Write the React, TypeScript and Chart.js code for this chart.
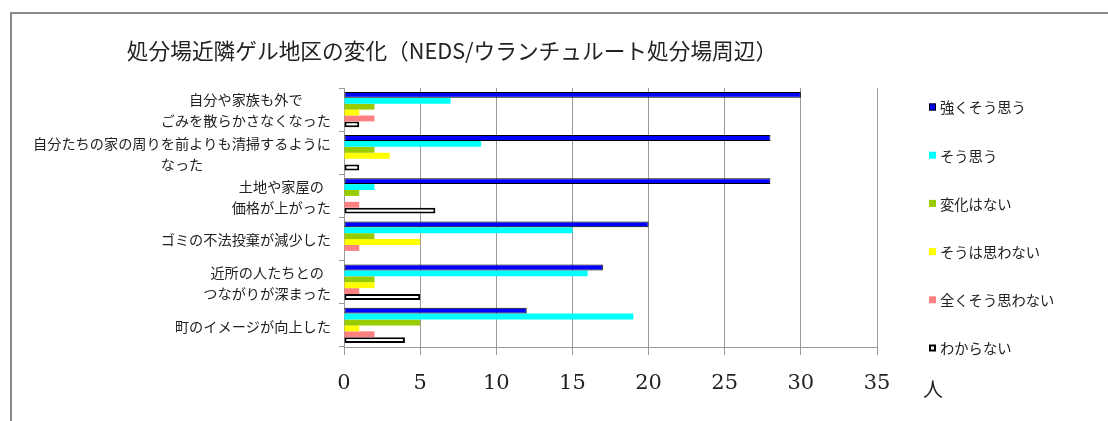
import React, { useEffect, useRef } from "react";
import { Chart, registerables } from "chart.js";

Chart.register(...registerables);

const TITLE = "処分場近隣ゲル地区の変化（NEDS/ウランチュルート処分場周辺）";
const UNIT = "人";

const categories: string[][] = [
  ["自分や家族も外で", "ごみを散らかさなくなった"],
  ["自分たちの家の周りを前よりも清掃するように", "なった"],
  ["土地や家屋の", "価格が上がった"],
  ["ゴミの不法投棄が減少した"],
  ["近所の人たちとの", "つながりが深まった"],
  ["町のイメージが向上した"],
];

const seriesNames = ["強くそう思う", "そう思う", "変化はない", "そうは思わない", "全くそう思わない", "わからない"];

const strongAgree = [30, 28, 28, 20, 17, 12];
const agree = [7, 9, 2, 15, 16, 19];
const noChange = [2, 2, 1, 2, 2, 5];
const disagree = [1, 3, 0, 5, 2, 1];
const stronglyDisagree = [2, 0, 1, 1, 1, 2];
const dontKnow = [1, 1, 6, 0, 5, 4];

const xTicksMax = 35;
const xStep = 5;

const colors = ["#0000FF", "#00FFFF", "#99CC00", "#FFFF00", "#FF8080", "#FFFFFF"];
const borderColors = ["#000000", "#00FFFF", "#99CC00", "#FFFF00", "#FF8080", "#000000"];
const borderWidths = [1, 0, 0, 0, 0, 2];

const JP = "'Noto Sans CJK JP', 'Noto Sans', sans-serif";

const decorPlugin = {
  id: "decor",
  afterDraw(chart: any) {
    const ctx = chart.ctx as CanvasRenderingContext2D;
    ctx.save();
    // outer frame
    ctx.strokeStyle = "#8a8a8a";
    ctx.lineWidth = 2;
    ctx.beginPath();
    ctx.moveTo(11, 421);
    ctx.lineTo(11, 13);
    ctx.lineTo(1108, 13);
    ctx.stroke();
    // title
    ctx.fillStyle = "#222";
    ctx.font = `21.7px ${JP}`;
    ctx.textAlign = "center";
    ctx.textBaseline = "middle";
    ctx.fillText(TITLE, 452, 51);
    // category labels (block right-aligned, lines centred)
    const yScale = chart.scales.y;
    ctx.font = `14.2px ${JP}`;
    const lineH = 21;
    const right = 331;
    categories.forEach((lines, i) => {
      const cy = yScale.getPixelForValue(i);
      const w = Math.max(...lines.map((l) => ctx.measureText(l).width));
      const cx = right - w / 2;
      lines.forEach((l, j) => {
        const ly = cy + (j - (lines.length - 1) / 2) * lineH + 1;
        ctx.fillText(l, cx, ly);
      });
    });
    // legend
    ctx.font = `14.3px ${JP}`;
    ctx.textAlign = "left";
    seriesNames.forEach((name, i) => {
      const cy = 107 + i * 48.2;
      const bw = borderWidths[i];
      ctx.fillStyle = colors[i];
      ctx.fillRect(929, cy - 3.5, 7, 7);
      if (bw > 0) {
        ctx.strokeStyle = "#000";
        ctx.lineWidth = bw;
        ctx.strokeRect(929 + bw / 2, cy - 3.5 + bw / 2, 7 - bw, 7 - bw);
      }
      ctx.fillStyle = "#222";
      ctx.fillText(name, 940, cy + 1);
    });
    // unit
    ctx.font = `20px ${JP}`;
    ctx.textAlign = "center";
    ctx.fillText(UNIT, 933, 389);
    ctx.restore();
  },
};

export default function App() {
  const ref = useRef<HTMLCanvasElement>(null);

  useEffect(() => {
    if (!ref.current) return;
    const data = [strongAgree, agree, noChange, disagree, stronglyDisagree, dontKnow];
    const chart = new Chart(ref.current, {
      type: "bar",
      data: {
        labels: categories.map((c) => c.join("")),
        datasets: seriesNames.map((name, i) => ({
          label: name,
          data: data[i],
          backgroundColor: colors[i],
          borderColor: borderColors[i],
          borderWidth: borderWidths[i],
          borderSkipped: false,
          barPercentage: 1,
          categoryPercentage: 0.82,
        })),
      },
      options: {
        indexAxis: "y",
        responsive: false,
        animation: false,
        devicePixelRatio: 1,
        layout: { padding: { left: 10, top: 88, right: 231, bottom: 24 } },
        plugins: {
          legend: { display: false },
          title: { display: false },
          tooltip: { enabled: false },
        },
        scales: {
          x: {
            min: 0,
            max: xTicksMax,
            ticks: {
              stepSize: xStep,
              color: "#222",
              font: { family: "'DejaVu Serif', serif", size: 21 },
              padding: 16,
            },
            grid: { color: "#9a9a9a", tickLength: 8, lineWidth: 1 },
            border: { color: "#9a9a9a" },
            afterFit: (s: any) => {
              s.height = 50;
            },
          },
          y: {
            ticks: { display: false, autoSkip: false },
            grid: { drawOnChartArea: false, drawTicks: true, color: "#9a9a9a", tickLength: 5, offset: true },
            border: { color: "#9a9a9a" },
            afterFit: (s: any) => {
              s.width = 334;
            },
          },
        },
      },
      plugins: [decorPlugin],
    });
    return () => chart.destroy();
  }, []);

  return (
    <div style={{ position: "absolute", left: 0, top: 0, width: 1108, height: 421, background: "#fff" }}>
      <canvas ref={ref} width={1108} height={421} style={{ display: "block" }} />
    </div>
  );
}
